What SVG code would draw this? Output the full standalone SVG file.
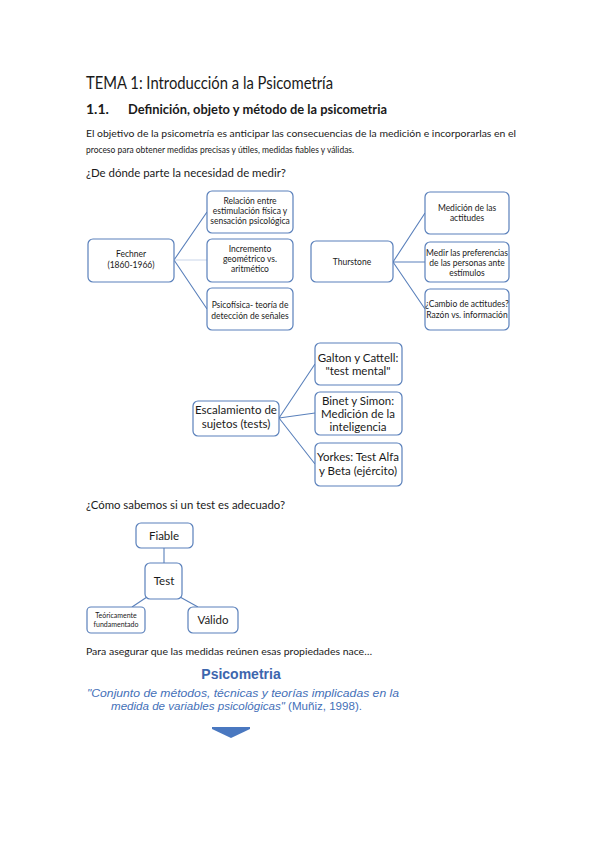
<svg xmlns="http://www.w3.org/2000/svg" width="599" height="848" viewBox="0 0 599 848">
<style>
text{font-family:Lato,"Liberation Sans","DejaVu Sans",sans-serif;fill:#1a1a1a}
.box{fill:#fff;stroke:#5a80bb;stroke-width:1.2}
.ln{stroke:#5a80bb;stroke-width:1.1;fill:none}
.s8{font-size:8.5px;text-anchor:middle}
.s11{font-size:11.5px;text-anchor:middle}
.s6{font-size:7px;text-anchor:middle}
.blue{fill:#3d66ad}
.q{font-family:"Liberation Sans",Arial,sans-serif;fill:#4470b8}
</style>
<rect width="599" height="848" fill="#fff"/>
<text x="86" y="89" font-size="17" textLength="247" lengthAdjust="spacingAndGlyphs">TEMA 1: Introducción a la Psicometría</text>
<text x="86" y="114" font-size="14" font-weight="bold" fill="#222">1.1.</text>
<text x="128" y="114" font-size="14" font-weight="bold" textLength="259" lengthAdjust="spacingAndGlyphs">Definición, objeto y método de la psicometria</text>
<text x="86" y="137" font-size="10" textLength="430" lengthAdjust="spacingAndGlyphs">El objetivo de la psicometría es anticipar las consecuencias de la medición e incorporarlas en el</text>
<text x="86" y="153" font-size="10" textLength="268" lengthAdjust="spacingAndGlyphs">proceso para obtener medidas precisas y útiles, medidas fiables y válidas.</text>
<text x="86" y="177" font-size="11.5" textLength="200" lengthAdjust="spacingAndGlyphs">¿De dónde parte la necesidad de medir?</text>

<g id="connectors">
<path class="ln" d="M174,260 L207,212 M174,260 L207,309"/>
<path d="M174,260 L207,260" stroke="#c9d6ea" stroke-width="1.1"/>
<path class="ln" d="M393,262 L425,213 M393,262 L425,262 M393,262 L425,309"/>
<path class="ln" d="M279,418 L315,364 M279,418 L315,413 M279,418 L315,464"/>
<path class="ln" d="M164,548 L164,563 M147,597 L132,607 M180,597 L198,607"/>
</g>

<g id="fechner"><rect class="box" x="88" y="239" width="86" height="43" rx="5"/>
<text class="s8" x="131" y="257">Fechner</text><text class="s8" x="131" y="268">(1860-1966)</text></g>
<g id="relacion"><rect class="box" x="207" y="191" width="86" height="42" rx="5"/>
<text class="s8" x="250" y="204">Relación entre</text><text class="s8" x="250" y="214">estimulación física y</text><text class="s8" x="250" y="224">sensación psicológica</text></g>
<g id="incremento"><rect class="box" x="207" y="239" width="86" height="43" rx="5"/>
<text class="s8" x="250" y="252">Incremento</text><text class="s8" x="250" y="262">geométrico vs.</text><text class="s8" x="250" y="272">aritmético</text></g>
<g id="psicofisica"><rect class="box" x="207" y="288" width="86" height="42" rx="5"/>
<text class="s8" x="250" y="308">Psicofísica- teoría de</text><text class="s8" x="250" y="319">detección de señales</text></g>

<g id="thurstone"><rect class="box" x="311" y="241" width="82" height="41" rx="5"/>
<text class="s8" x="352" y="265">Thurstone</text></g>
<g id="medicion-actitudes"><rect class="box" x="425" y="192" width="84" height="42" rx="5"/>
<text class="s8" x="467" y="211">Medición de las</text><text class="s8" x="467" y="221">actitudes</text></g>
<g id="medir-preferencias"><rect class="box" x="425" y="242" width="84" height="40" rx="5"/>
<text class="s8" x="467" y="256">Medir las preferencias</text><text class="s8" x="467" y="266">de las personas ante</text><text class="s8" x="467" y="276">estímulos</text></g>
<g id="cambio-actitudes"><rect class="box" x="425" y="289" width="84" height="41" rx="5"/>
<text class="s8" x="467" y="307">¿Cambio de actitudes?</text><text class="s8" x="467" y="318">Razón vs. información</text></g>

<g id="escalamiento"><rect class="box" x="193" y="401" width="86" height="35" rx="5"/>
<text class="s11" x="236" y="414">Escalamiento de</text><text class="s11" x="236" y="428">sujetos (tests)</text></g>
<g id="galton"><rect class="box" x="315" y="343" width="87" height="42" rx="5"/>
<text class="s11" x="358" y="362">Galton y Cattell:</text><text class="s11" x="358" y="375">"test mental"</text></g>
<g id="binet"><rect class="box" x="315" y="392" width="87" height="43" rx="5"/>
<text class="s11" x="358" y="405">Binet y Simon:</text><text class="s11" x="358" y="418">Medición de la</text><text class="s11" x="358" y="431">inteligencia</text></g>
<g id="yorkes"><rect class="box" x="315" y="443" width="87" height="43" rx="5"/>
<text class="s11" x="358" y="461">Yorkes: Test Alfa</text><text class="s11" x="358" y="475">y Beta (ejército)</text></g>

<text x="86" y="509" font-size="11.5" textLength="199" lengthAdjust="spacingAndGlyphs">¿Cómo sabemos si un test es adecuado?</text>

<g id="fiable"><rect class="box" x="136" y="523" width="57" height="25" rx="5"/>
<text class="s11" x="164" y="540">Fiable</text></g>
<g id="test"><rect class="box" x="145" y="563" width="37" height="36" rx="5"/>
<text class="s11" x="164" y="585">Test</text></g>
<g id="teoricamente"><rect class="box" x="87" y="607" width="58" height="26" rx="4"/>
<text class="s6" x="116" y="618">Teóricamente</text><text class="s6" x="116" y="627">fundamentado</text></g>
<g id="valido"><rect class="box" x="188" y="607" width="50" height="26" rx="5"/>
<text class="s11" x="213" y="624">Válido</text></g>

<text x="86" y="655" font-size="9.5" textLength="286" lengthAdjust="spacingAndGlyphs">Para asegurar que las medidas reúnen esas propiedades nace…</text>
<text x="241" y="679" font-size="14" font-weight="bold" text-anchor="middle" class="q" style="fill:#3d66ad">Psicometria</text>
<text x="87" y="697" font-size="10.5" font-style="italic" class="q" textLength="312" lengthAdjust="spacingAndGlyphs">"Conjunto de métodos, técnicas y teorías implicadas en la</text>
<text x="111" y="710" font-size="10.5" class="q" textLength="251" lengthAdjust="spacingAndGlyphs"><tspan font-style="italic">medida de variables psicológicas"</tspan> (Muñiz, 1998).</text>
<polygon points="212,727 250,727 250,729 231,738 212,729" fill="#4a78c0"/>
</svg>
